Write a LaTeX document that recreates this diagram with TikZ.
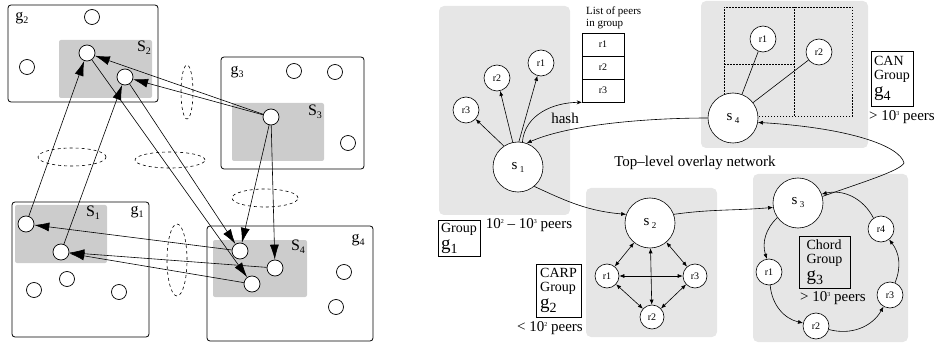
\documentclass[tikz,border=0pt]{standalone}
\usepackage{fontspec}
\setmainfont{Liberation Serif}
\usetikzlibrary{arrows.meta}
\definecolor{dkgray}{HTML}{CCCCCC}
\definecolor{ltgray}{HTML}{E6E6E6}
\newcommand\subl[2]{#1\raisebox{-3pt}{\fontsize{10}{10}\selectfont #2}}
\newcommand\ssub[2]{#1\,\raisebox{-3pt}{\fontsize{9}{9}\selectfont #2}}
\newcommand\sups[1]{\raisebox{5pt}{\fontsize{6}{6}\selectfont #1}}
\newcommand\biggsub[1]{{\fontsize{19}{19}\selectfont g}\raisebox{-4pt}{#1}}
\begin{document}
\begin{tikzpicture}[x=1pt,y=1pt,
  grpbox/.style={draw, line width=0.8pt, rounded corners=3pt},
  sarea/.style={fill=dkgray, rounded corners=2pt},
  peer/.style={circle, draw, fill=white, line width=0.7pt, minimum size=15pt, inner sep=0pt},
  spr/.style={peer, minimum size=16pt},
  big/.style={-{Latex[length=15pt,width=9pt]}, line width=0.6pt},
  lbl/.style={font=\fontsize{16}{16}\selectfont, inner sep=0pt},
  area/.style={fill=ltgray, rounded corners=5pt},
  snode/.style={circle, draw, fill=white, minimum size=50pt, inner sep=0pt, line width=0.6pt, font=\fontsize{15}{15}\selectfont},
  rnode/.style={circle, draw, fill=white, minimum size=26pt, inner sep=0pt, line width=0.6pt, font=\fontsize{10}{10}\selectfont},
  cnode/.style={rnode, minimum size=24pt},
  sm/.style={-{Latex[length=5pt,width=4pt]}, line width=0.6pt},
  dsm/.style={{Latex[length=5pt,width=4pt]}-{Latex[length=5pt,width=4pt]}, line width=0.6pt},
  gbox/.style={draw, line width=0.7pt, inner sep=1.5pt, align=left, font=\fontsize{14}{14}\selectfont},
  txt/.style={font=\fontsize{15}{15}\selectfont, inner sep=0pt},
  cell/.style={draw, line width=0.7pt, minimum width=42pt, minimum height=23pt, inner sep=0pt, font=\fontsize{10}{10}\selectfont},
  ell/.style={dashed, line width=0.6pt}
]
\useasboundingbox (0,0) rectangle (938,346);

% ---------------- left diagram ----------------
% group g2
\draw[grpbox] (8,244) rectangle (158,341);
\fill[sarea] (59,248) rectangle (152,306);
\node[lbl] (lg2) at (22,328) {\subl{g}{2}};
\node[lbl] (ls2) at (144,298) {\subl{S}{2}};
\node[peer] (e1) at (92,329) {};
\node[peer] (e2) at (27,279) {};
\node[spr] (a) at (87,293) {};
\node[spr] (b) at (125,269) {};
% group g3
\draw[grpbox] (221,177) rectangle (364,289);
\fill[sarea] (232,185) rectangle (324,243);
\node[lbl] (lg3) at (237,274) {\subl{g}{3}};
\node[lbl] (ls3) at (315,234) {\subl{S}{3}};
\node[peer] (e3) at (294,275) {};
\node[peer] (e4) at (335,274) {};
\node[peer] (e5) at (348,203) {};
\node[spr] (c) at (271,229) {};
% group g1
\draw[grpbox] (12,9) rectangle (149,144);
\fill[sarea] (15,83) rectangle (107,141);
\node[lbl] (ls1) at (93,133) {\subl{S}{1}};
\node[lbl] (lg1) at (137,134) {\subl{g}{1}};
\node[spr] (p1) at (26,122) {};
\node[spr] (p2) at (61,94) {};
\node[peer] (e6) at (67,67) {};
\node[peer] (e7) at (34,56) {};
\node[peer] (e8) at (119,54) {};
% group g4
\draw[grpbox] (207,5) rectangle (373,120);
\fill[sarea] (213,49) rectangle (307,106);
\node[lbl] (ls4) at (298,99) {\subl{S}{4}};
\node[lbl] (lg4) at (358,106) {\subl{g}{4}};
\node[spr] (q1) at (240,95) {};
\node[spr] (q2) at (275,78) {};
\node[spr] (q3) at (252,62) {};
\node[peer] (e9) at (344,74) {};
\node[peer] (e10) at (336,39) {};
% dashed ellipses
\draw[ell] (187,254) ellipse [x radius=6, y radius=27];
\draw[ell] (72,189) ellipse [x radius=34, y radius=9];
\draw[ell] (170,186) ellipse [x radius=35, y radius=8];
\draw[ell] (265,148) ellipse [x radius=33, y radius=9];
\draw[ell] (177,86) ellipse [x radius=10, y radius=36];
% connectors
\draw[big] (p1) -- (a);
\draw[big] (p2) -- (b);
\draw[big] (a) -- (q3);
\draw[big] (b) -- (q1);
\draw[big] (c) -- (a);
\draw[big] (c) -- (b);
\draw[big] (c) -- (q1);
\draw[big] (c) -- (q2);
\draw[big] (q1) -- (p1);
\draw[big] (q2) -- (p2);
\draw[big] (q3) -- (p2);

% ---------------- right diagram ----------------
\fill[area] (439,131) rectangle (570,340);
\fill[area] (701,198) rectangle (868,345);
\fill[area] (586,9) rectangle (717,158);
\fill[area] (753,4) rectangle (908,172);

% CAN grid
\draw[dash pattern=on 1.5pt off 1.5pt, line width=0.7pt] (724,230) rectangle (852,339);
\draw[dash pattern=on 1.5pt off 1.5pt, line width=0.7pt] (794,230) -- (794,339);
\draw[dash pattern=on 1.5pt off 1.5pt, line width=0.7pt] (724,282) -- (794,282);

% group 1
\node[snode] (s1) at (518,179) {\ssub{s}{1}};
\node[rnode] (r1a) at (541,283) {r1};
\node[rnode] (r2a) at (497,268) {r2};
\node[rnode] (r3a) at (466,236) {r3};
\node[cell] (l1) at (603,301.5) {r1};
\node[cell] (l2) at (603,278.5) {r2};
\node[cell] (l3) at (603,255.5) {r3};
\node[font=\fontsize{11}{11}\selectfont, inner sep=0pt, anchor=west] (lt1) at (586,334) {List of peers};
\node[font=\fontsize{11}{11}\selectfont, inner sep=0pt, anchor=west] (lt2) at (586,322) {in group};
\node[txt] (hash) at (565,228) {hash};
\draw[sm] (s1.124) -- (r3a);
\draw[sm] (s1.102) -- (r2a);
\draw[sm] (s1.88) -- (r1a);
\draw[-{Stealth[length=5pt,width=4pt]}, line width=0.6pt] (s1.80) to[out=85,in=180] (l3.south west);
\node[gbox, minimum width=42pt, minimum height=36pt] (bg1) at (459,108) {Group\\[3pt]\biggsub{1}};
\node[txt] (pp1) at (529,121) {10\sups{2} – 10\sups{3} peers};

% group 4
\node[snode] (s4) at (733,228) {\ssub{s}{4}};
\node[rnode] (r1d) at (763,307) {r1};
\node[rnode] (r2d) at (819,294) {r2};
\draw[line width=0.6pt] (s4) -- (r1d);
\draw[line width=0.6pt] (s4) -- (r2d);
\node[gbox, minimum width=42pt, minimum height=55pt] (bg4) at (892,267.5) {CAN\\Group\\[3pt]\biggsub{4}};
\node[txt] (pp4) at (902,229) {> 10\sups{3} peers};
\node[txt] (top) at (695,183) {Top–level overlay network};

% group 2
\node[snode] (s2) at (650,123) {\ssub{s}{2}};
\node[cnode] (r1b) at (607,70) {r1};
\node[cnode] (r3b) at (695,70) {r3};
\node[cnode] (r2b) at (652,29) {r2};
\draw[dsm] (s2) -- (r1b);
\draw[dsm] (s2) -- (r3b);
\draw[dsm] (s2) -- (r2b);
\draw[dsm] (r1b) -- (r3b);
\draw[dsm] (r1b) -- (r2b);
\draw[dsm] (r3b) -- (r2b);
\node[gbox, minimum width=45pt, minimum height=53pt] (bg2) at (558.5,55.5) {CARP\\Group\\[3pt]\biggsub{2}};
\node[txt] (pp2) at (550,18) {< 10\sups{2} peers};

% group 3
\node[snode] (s3) at (798,143) {\ssub{s}{3}};
\node[rnode] (c1) at (769,74) {r1};
\node[rnode] (c2) at (816,20) {r2};
\node[rnode] (c3) at (890,51) {r3};
\node[rnode] (c4) at (881,117) {r4};
\draw[sm] (s3) to[bend right=32] (c1);
\draw[sm] (c1) to[bend right=36] (c2);
\draw[sm] (c2) to[bend right=38] (c3);
\draw[sm] (c3) to[bend right=30] (c4);
\draw[sm] (c4) to[bend right=38] (s3);
\node[gbox, minimum width=51pt, minimum height=52pt] (bg3) at (824.5,84) {Chord\\Group\\[3pt]\biggsub{3}};
\node[txt] (pp3) at (833,48) {> 10\sups{3} peers};

% top-level overlay connectors
\coordinate (bend) at (904,183);
\draw[sm] (s4.west) .. controls (650,228) and (570,222) .. (s1.70);
\draw[sm] (s1.-50) to[out=-25,in=175] (s2.160);
\draw[sm] (s2.20) to[out=8,in=185] (s3.190);
\draw[sm] (s3.15) .. controls (860,163) and (900,175) .. (bend) .. controls (900,200) and (850,218) .. (s4.-10);
\end{tikzpicture}
\end{document}
